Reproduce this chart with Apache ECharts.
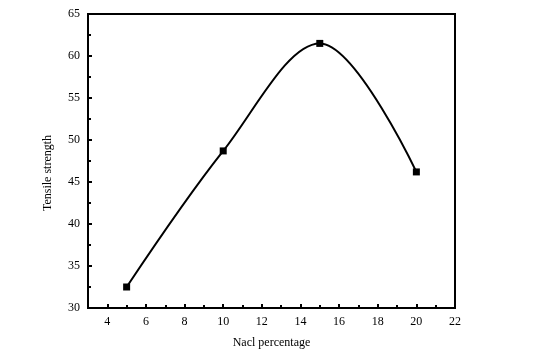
<!DOCTYPE html>
<html>
<head>
<meta charset="utf-8">
<script src="https://cdn.jsdelivr.net/npm/echarts@6/dist/echarts.min.js"></script>
<style>
  html, body { margin: 0; padding: 0; background: #fff; }
  #chart { width: 559px; height: 359px; }
</style>
</head>
<body>
<div id="chart"></div>
<script>
  // values
  var naclPct = [5, 10, 15, 20];
  var strength = [32.5, 48.7, 61.5, 46.2];
  var xTicks = [4, 6, 8, 10, 12, 14, 16, 18, 20, 22];
  var xMinorTicks = [5, 7, 9, 11, 13, 15, 17, 19, 21];

  var points = [];
  for (var i = 0; i < naclPct.length; i++) {
    points.push([naclPct[i], strength[i]]);
  }

  var font = "Liberation Serif";
  var chart = echarts.init(document.getElementById("chart"));

  var option = {
    animation: false,
    backgroundColor: "#fff",
    grid: {
      left: 88, right: 104, top: 14, bottom: 51,
      show: true,
      borderColor: "#000",
      borderWidth: 2
    },
    xAxis: [{
      type: "value",
      min: 3, max: 22,
      interval: 1,
      name: "Nacl percentage",
      nameLocation: "middle",
      nameGap: 29,
      nameTextStyle: { fontFamily: font, fontSize: 12, color: "#000" },
      axisLine: { show: true, onZero: false, lineStyle: { color: "#000", width: 2 } },
      axisTick: { show: true, inside: true, length: 4, lineStyle: { color: "#000", width: 2 },
        customValues: xTicks },
      axisLabel: { fontFamily: font, fontSize: 12, color: "#000", margin: 8,
        customValues: xTicks },
      splitLine: { show: false }
    }, {
      // shorter ticks at the odd values
      type: "value",
      position: "bottom",
      min: 3, max: 22,
      interval: 1,
      axisLine: { show: false },
      axisTick: { show: true, inside: true, length: 3, lineStyle: { color: "#000", width: 2 },
        customValues: xMinorTicks },
      axisLabel: { show: false },
      splitLine: { show: false }
    }],
    yAxis: {
      type: "value",
      min: 30, max: 65,
      interval: 5,
      name: "Tensile strength",
      nameLocation: "middle",
      nameGap: 34,
      nameTextStyle: { fontFamily: font, fontSize: 12, color: "#000", padding: [0, 24, 0, 0] },
      axisLine: { show: true, lineStyle: { color: "#000", width: 2 } },
      axisTick: { show: true, inside: true, length: 4, lineStyle: { color: "#000", width: 2 } },
      minorTick: { show: true, splitNumber: 2, length: 3, lineStyle: { color: "#000", width: 2 } },
      axisLabel: { fontFamily: font, fontSize: 12, color: "#000", margin: 8 },
      splitLine: { show: false }
    },
    series: [{
      type: "line",
      data: points,
      smooth: 0.35,
      symbol: "rect",
      symbolSize: 7,
      itemStyle: { color: "#000" },
      lineStyle: { color: "#000", width: 2 }
    }]
  };
  chart.setOption(option);
</script>
</body>
</html>
